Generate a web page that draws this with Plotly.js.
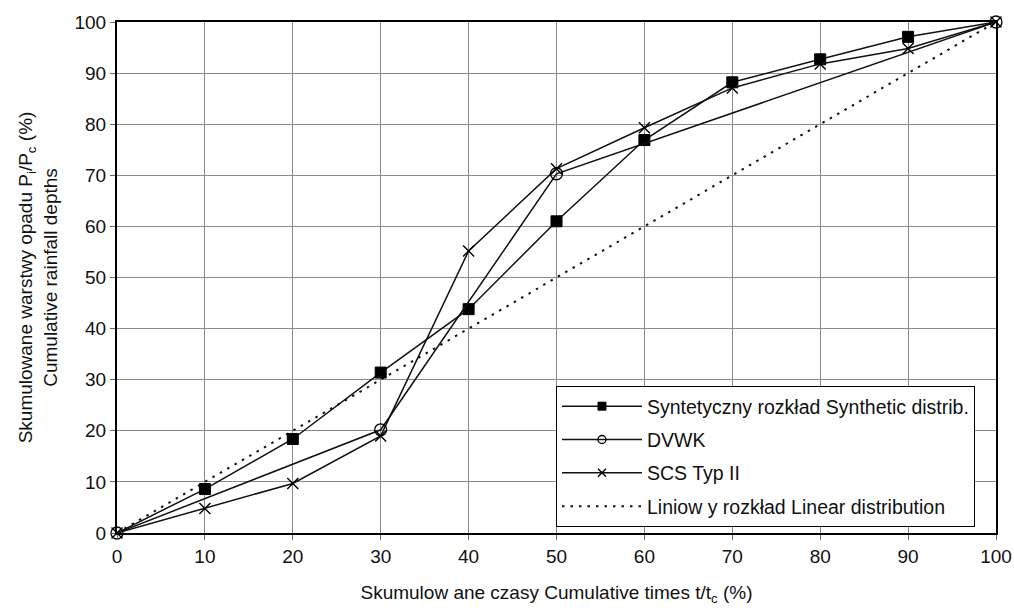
<!DOCTYPE html>
<html>
<head>
<meta charset="utf-8">
<script src="https://cdn.plot.ly/plotly-3.0.1.min.js"></script>
<style>html,body{margin:0;padding:0;background:#fff;}#chart{width:1014px;height:612px;}</style>
</head>
<body>
<div id="chart"></div>
<script>
// Data
const timeSteps = [0, 10, 20, 30, 40, 50, 60, 70, 80, 90, 100];
const syntheticDepths = [0, 8.6, 18.4, 31.4, 43.8, 61.0, 76.9, 88.2, 92.7, 97.1, 100];

const dvwkTimes = [0, 30, 50, 100];
const dvwkDepths = [0, 20.2, 70.3, 100];

const scsTimes = [0, 10, 20, 30, 40, 50, 60, 70, 80, 90, 100];
const scsDepths = [0, 4.8, 9.7, 19.0, 55.2, 71.3, 79.3, 87.1, 91.8, 94.8, 100];

const linearTimes = [0, 100];
const linearDepths = [0, 100];

const seriesNames = [
  'Syntetyczny rozkład Synthetic distrib.',
  'DVWK',
  'SCS Typ II',
  'Liniow y rozkład Linear distribution'
];

const xTitle = 'Skumulow ane czasy Cumulative times t/t<sub>c</sub> (%)';
const yTitle = 'Skumulowane warstwy opadu P<sub>i</sub>/P<sub>c</sub> (%)<br>Cumulative rainfall depths';

const FONT = 'Liberation Sans, Arial, sans-serif';

// Square markers are not drawn at the shared end points (0 and 100)
const squareSizes = timeSteps.map(t => (t === 0 || t === 100) ? 0 : 11);

const lineStyle = {color: '#111', width: 1.5};
const dotStyle = {color: '#111', width: 2, dash: '2.5px,6px'};
const squareMarker = (s) => ({symbol: 'square', size: s, color: '#000', opacity: 1, line: {width: 1, color: '#000'}});
const crossMarker = (s) => ({symbol: 'x-thin-open', size: s, color: '#000', opacity: 1, line: {width: 1.4, color: '#000'}});
const circleMarker = (s) => ({symbol: 'circle', size: s, color: 'rgba(255,255,255,0)', opacity: 1, line: {width: 1.3, color: '#000'}});

const traces = [
  // plotted series
  {x: linearTimes, y: linearDepths, mode: 'lines', line: dotStyle, showlegend: false, cliponaxis: false},
  {x: timeSteps, y: syntheticDepths, mode: 'lines+markers', line: lineStyle, marker: squareMarker(squareSizes), showlegend: false, cliponaxis: false},
  {x: scsTimes, y: scsDepths, mode: 'lines+markers', line: lineStyle, marker: crossMarker(11), showlegend: false, cliponaxis: false},
  {x: dvwkTimes, y: dvwkDepths, mode: 'lines+markers', line: lineStyle, marker: circleMarker(12), showlegend: false, cliponaxis: false},
  // legend entries (smaller symbols, as in the reference legend)
  {x: [null], y: [null], name: seriesNames[0], legendgroup: 'g1', legendrank: 1, mode: 'lines+markers', line: lineStyle, marker: squareMarker(8)},
  {x: [null], y: [null], name: seriesNames[1], legendgroup: 'g2', legendrank: 2, mode: 'lines+markers', line: lineStyle, marker: circleMarker(8)},
  {x: [null], y: [null], name: seriesNames[2], legendgroup: 'g3', legendrank: 3, mode: 'lines+markers', line: lineStyle, marker: crossMarker(8)},
  {x: [null], y: [null], name: seriesNames[3], legendgroup: 'g4', legendrank: 4, mode: 'lines', line: dotStyle}
];

const axisCommon = {
  range: [0, 100], dtick: 10, tick0: 0,
  showgrid: true, gridcolor: '#8a8a8a', gridwidth: 1,
  showline: true, linecolor: '#000', linewidth: 2, mirror: true,
  ticks: 'outside', ticklen: 5, tickcolor: '#666', tickwidth: 1,
  zeroline: false,
  tickfont: {family: FONT, size: 19, color: '#111'}
};

const layout = {
  width: 1014, height: 612,
  margin: {l: 117, r: 18, t: 22, b: 79},
  paper_bgcolor: '#fff', plot_bgcolor: '#fff',
  font: {family: FONT, color: '#111'},
  showlegend: true,
  legend: {
    x: 0.4994, y: 0.2877, xanchor: 'left', yanchor: 'top',
    bgcolor: '#fff', bordercolor: '#000', borderwidth: 1,
    font: {family: FONT, size: 19.5, color: '#111'},
    itemwidth: 80, tracegroupgap: 5, traceorder: 'grouped'
  },
  xaxis: Object.assign({}, axisCommon, {
    title: {text: xTitle, font: {family: FONT, size: 19, color: '#111'}, standoff: 20}
  }),
  yaxis: Object.assign({}, axisCommon, {
    title: {text: yTitle, font: {family: FONT, size: 19, color: '#111'}, standoff: 12}
  })
};

Plotly.newPlot('chart', traces, layout, {displayModeBar: false, staticPlot: true});
</script>
</body>
</html>
